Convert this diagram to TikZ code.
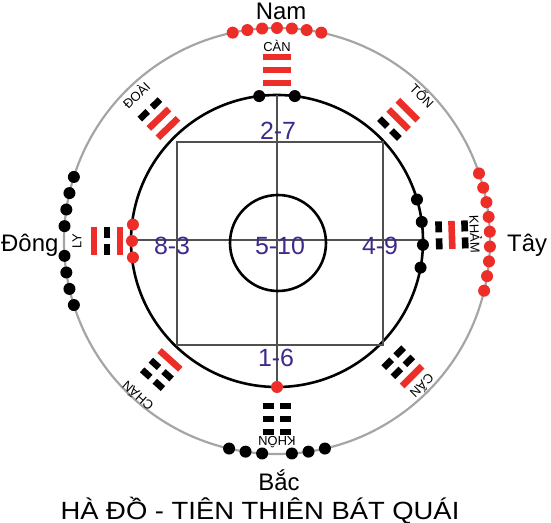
\documentclass[tikz,border=0pt]{standalone}
\usepackage{fontspec}
\setmainfont{Liberation Sans}
\usetikzlibrary{positioning}

\definecolor{hdred}{RGB}{236,45,40}
\definecolor{hdnum}{RGB}{64,40,140}
\definecolor{hdgray}{RGB}{165,165,165}
\definecolor{hdline}{RGB}{80,80,80}

% one line of a trigram: #1 = place (-1 inner, 1 outer), #2 = 1 yang / 0 yin
\newcommand{\hao}[2]{%
  \ifnum#2=1\relax
    \fill[hdred] (-14,{#1*13-3.3}) rectangle (14,{#1*13+3.3});
  \else
    \fill (-14,{#1*13-3.3}) rectangle (-3,{#1*13+3.3});
    \fill (3,{#1*13-3.3}) rectangle (14,{#1*13+3.3});
  \fi}

\begin{document}
\begin{tikzpicture}[x=1bp, y=1bp,
    dir/.style={inner sep=0pt, font=\fontsize{24}{28}\selectfont},
    num/.style={inner sep=0pt, text=hdnum, font=\fontsize{25}{30}\selectfont},
    qua/.style={inner sep=0pt, font=\fontsize{13}{15}\selectfont},
    title/.style={inner sep=0pt, font=\fontsize{25}{30}\selectfont}]
    \useasboundingbox (-277,-282) rectangle (274,241);

    \draw[hdgray, line width=2.2] (0,0) circle (213);
    \draw[line width=2.6] (0,0) circle (146);
    \draw[hdline, line width=1.1] (-100,-104) rectangle (106,99);
    \draw[hdline, line width=1.1] (0,146) -- (0,-146);
    \draw[hdline, line width=1.1] (-145,1) -- (147,1);
    \draw[line width=2.6] (1,-2) circle (48);

    \node[num] (n27) at (1,110) {2-7};
    \node[num] (n510) at (3,-5) {5-10};
    \node[num] (n49) at (103,-5) {4-9};
    \node[num] (n83) at (-105,-5) {8-3};
    \node[num] (n16) at (-1,-117) {1-6};

    % dots on the outer ring
    \foreach \t in {-3,...,3}
        \fill[hdred] ({90+4*\t}:213) circle (6);
    \foreach \t in {-4,...,4}
        \fill[hdred] ({2.5+4*\t}:213) circle (6);
    \foreach \t in {4,8.5,13,17.5} {
        \fill ({180+\t}:213) circle (6);
        \fill ({180-\t}:213) circle (6);
    }
    \foreach \t in {4,8.5,13} {
        \fill ({270+\t}:213) circle (6);
        \fill ({270-\t}:213) circle (6);
    }

    % dots on the inner ring
    \foreach \t in {83,97}
        \fill (\t:146) circle (6);
    \foreach \t in {173.5,180,186.5}
        \fill[hdred] (\t:145) circle (6);
    \foreach \t in {-10.5,-1.5,7.5,16.5}
        \fill (\t:146) circle (6);
    \fill[hdred] (270:146) circle (6);

    % trigrams
    \foreach \a/\r/\ha/\hb/\hc/\tn/\lr in {90/171/1/1/1/CÀN/195,
            134/170/1/1/0/ĐOÀI/203, 45/172/0/1/1/TỐN/206,
            180/170/1/0/1/LY/200, 2/175/0/1/0/KHẢM/199,
            228/173/1/0/0/CHẤN/209, 315/178/0/0/1/CẤN/206,
            270/178/0/0/0/KHÔN/201} {
        \begin{scope}[shift={(\a:\r)}, rotate=\a-90]
            \hao{-1}{\ha}
            \hao{0}{\hb}
            \hao{1}{\hc}
        \end{scope}
        \node[qua, rotate=\a-90] (q\a) at (\a:\lr) {\tn};
    }

    \node[dir, anchor=base] (nam) at (4,221) {Nam};
    \node[dir, anchor=base west] (dong) at (-276,-11) {Đông};
    \node[dir, anchor=base west] (tay) at (230,-11) {Tây};
    \node[dir, anchor=base] (bac) at (2,-249) {Bắc};
    \node[title, anchor=base, xscale=1.1] (tit) at (-17,-278) {HÀ ĐỒ - TIÊN THIÊN BÁT QUÁI};
\end{tikzpicture}
\end{document}
